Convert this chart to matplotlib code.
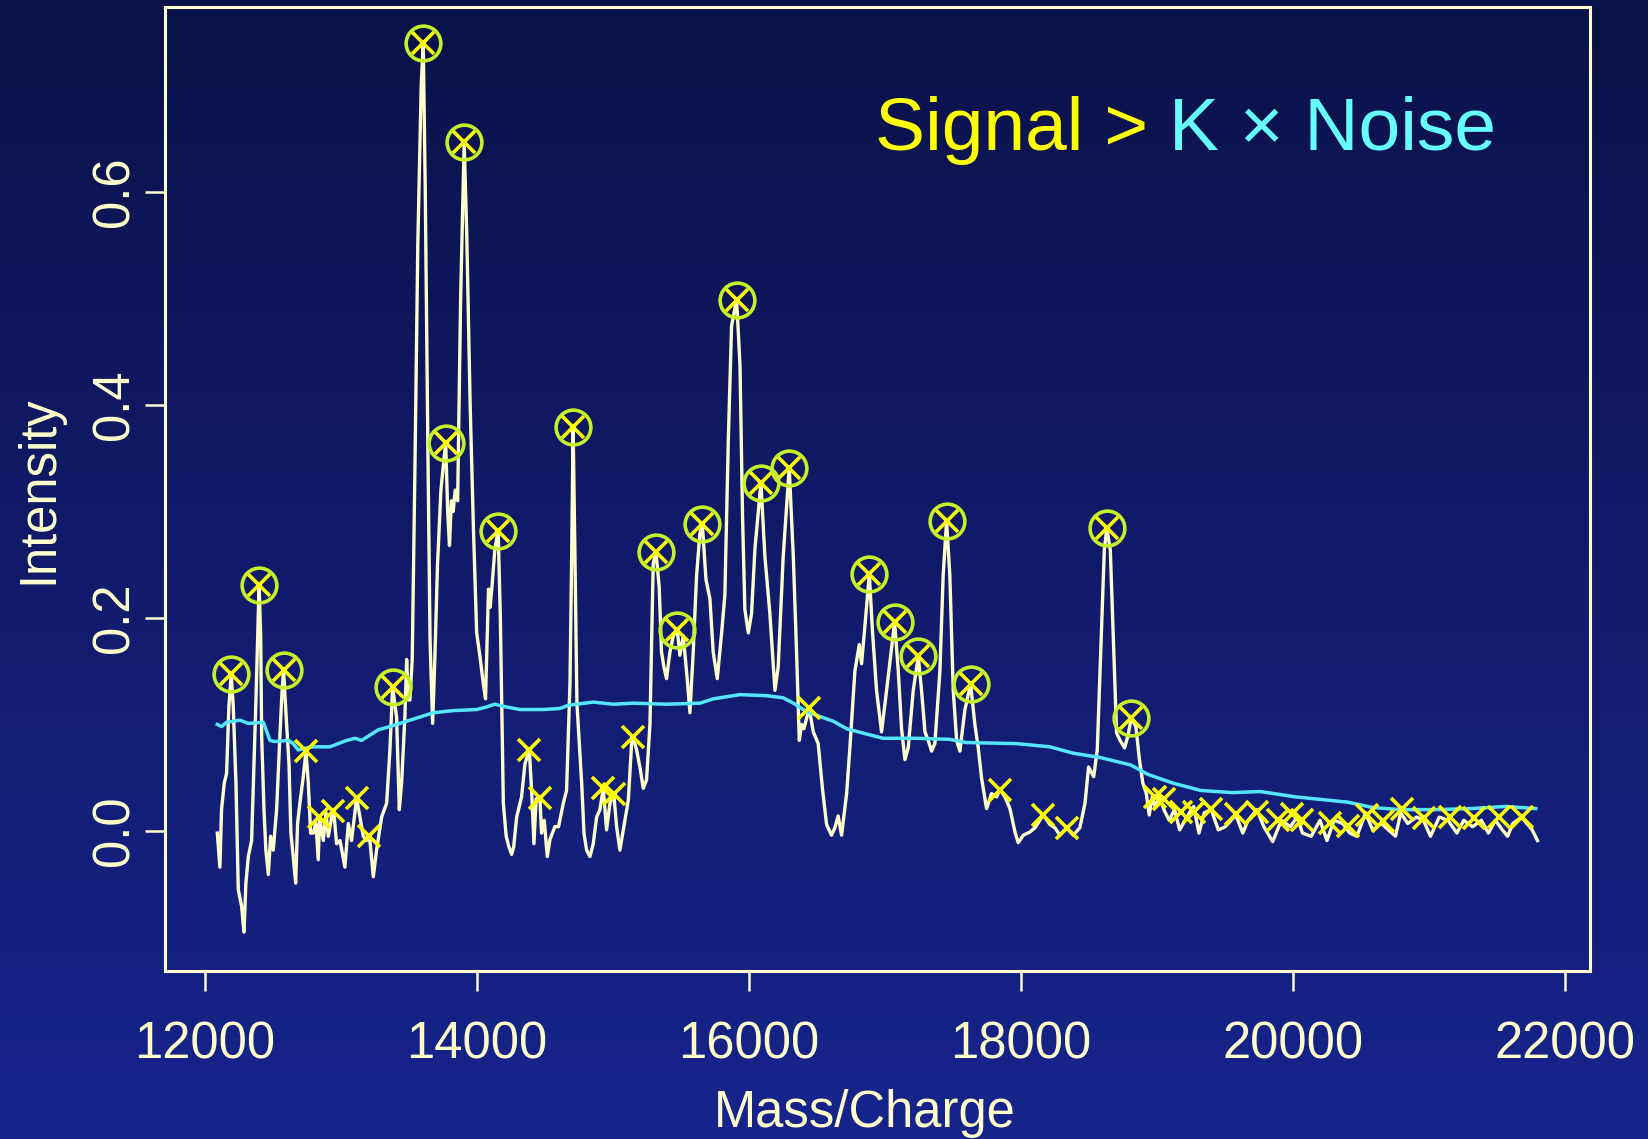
import numpy as np
import matplotlib.pyplot as plt
from matplotlib.colors import LinearSegmentedColormap

plt.rcParams['font.family'] = ['Liberation Sans', 'DejaVu Sans']

# spectrum trace (mass/charge, intensity)
mz = [12091, 12110, 12122, 12142, 12159, 12176, 12193, 12208, 12228, 12245,
      12270, 12287, 12301, 12319, 12343, 12360, 12375, 12398, 12410, 12417,
      12434, 12448, 12466, 12483, 12502, 12527, 12551, 12566, 12578, 12600,
      12618, 12632, 12649, 12667, 12681, 12698, 12723, 12743, 12760, 12777,
      12796, 12816, 12833, 12843, 12870, 12890, 12907, 12940, 12951, 12968,
      12993, 13029, 13054, 13078, 13115, 13140, 13164, 13189, 13210, 13238,
      13262, 13299, 13336, 13360, 13380, 13409, 13429, 13446, 13470, 13483,
      13495, 13507, 13524, 13545, 13565, 13590, 13605, 13620, 13640, 13655,
      13674, 13690, 13710, 13735, 13758, 13770, 13785, 13798, 13812, 13825,
      13840, 13858, 13880, 13906, 13925, 13950, 13975, 13998, 14022, 14045,
      14063, 14075, 14085, 14097, 14112, 14132, 14156, 14172, 14194, 14215,
      14235, 14255, 14270, 14292, 14328, 14353, 14385, 14402, 14419, 14435,
      14463, 14475, 14495, 14517, 14537, 14573, 14600, 14635, 14659, 14684,
      14697, 14707, 14720, 14735, 14770, 14787, 14806, 14831, 14855, 14880,
      14904, 14929, 14953, 14978, 15005, 15027, 15051, 15088, 15113, 15137,
      15149, 15174, 15198, 15223, 15247, 15272, 15296, 15316, 15340, 15357,
      15375, 15394, 15419, 15443, 15473, 15492, 15517, 15546, 15566, 15590,
      15615, 15639, 15657, 15684, 15713, 15737, 15767, 15799, 15823, 15848,
      15872, 15909, 15934, 15953, 15970, 15995, 16019, 16044, 16088, 16117,
      16154, 16191, 16215, 16252, 16296, 16326, 16350, 16370, 16387, 16404,
      16443, 16473, 16509, 16541, 16571, 16607, 16632, 16656, 16681, 16718,
      16742, 16779, 16811, 16828, 16853, 16885, 16909, 16938, 16975, 17012,
      17071, 17098, 17122, 17147, 17171, 17208, 17245, 17269, 17294, 17318,
      17343, 17367, 17404, 17428, 17453, 17477, 17502, 17527, 17551, 17588,
      17630, 17661, 17686, 17710, 17747, 17784, 17821, 17846, 17882, 17919,
      17956, 17980, 18017, 18066, 18103, 18164, 18213, 18250, 18286, 18336,
      18384, 18433, 18471, 18497, 18535, 18561, 18587, 18613, 18631, 18657,
      18682, 18703, 18729, 18762, 18786, 18811, 18845, 18871, 18896, 18922,
      18943, 18966, 18987, 19018, 19051, 19090, 19129, 19167, 19219, 19270,
      19309, 19348, 19399, 19451, 19503, 19580, 19631, 19670, 19735, 19786,
      19851, 19915, 19980, 20031, 20070, 20134, 20199, 20250, 20302, 20366,
      20418, 20470, 20534, 20586, 20650, 20702, 20754, 20792, 20844, 20908,
      20960, 21011, 21076, 21140, 21205, 21256, 21321, 21385, 21437, 21488,
      21540, 21578, 21617, 21681, 21720, 21759, 21798]
intensity = [-0.002, -0.034, 0.020, 0.045, 0.054, 0.117, 0.147, 0.117, 0.045, -0.055,
             -0.071, -0.095, -0.049, -0.024, -0.009, 0.060, 0.123, 0.231, 0.182, 0.089,
             0.020, -0.018, -0.041, -0.005, -0.018, 0.020, 0.089, 0.129, 0.151, 0.101,
             0.063, -0.002, -0.024, -0.049, 0.007, 0.026, 0.051, 0.075, 0.045, -0.002,
             -0.002, 0.007, -0.027, 0.013, -0.009, 0.017, -0.005, 0.019, 0.013, -0.012,
             -0.009, -0.034, 0.007, -0.009, 0.031, 0.013, -0.005, -0.009, -0.005, -0.043,
             -0.018, 0.013, 0.026, 0.076, 0.135, 0.107, 0.020, 0.045, 0.107, 0.161,
             0.123, 0.123, 0.161, 0.350, 0.550, 0.700, 0.740, 0.600, 0.350, 0.180,
             0.101, 0.160, 0.250, 0.320, 0.350, 0.364, 0.300, 0.268, 0.310, 0.300,
             0.320, 0.310, 0.500, 0.647, 0.560, 0.400, 0.280, 0.186, 0.164, 0.140,
             0.124, 0.180, 0.227, 0.210, 0.232, 0.265, 0.282, 0.200, 0.026, -0.005,
             -0.015, -0.022, -0.015, 0.013, 0.032, 0.063, 0.076, 0.038, -0.012, 0.030,
             0.031, -0.002, 0.010, -0.024, -0.008, 0.004, 0.004, 0.026, 0.038, 0.139,
             0.264, 0.379, 0.264, 0.120, 0.045, -0.002, -0.018, -0.024, -0.012, 0.013,
             0.020, 0.040, 0.001, 0.026, 0.036, 0.004, -0.018, 0.010, 0.029, 0.082,
             0.088, 0.076, 0.060, 0.040, 0.048, 0.100, 0.251, 0.262, 0.229, 0.168,
             0.154, 0.143, 0.168, 0.183, 0.189, 0.165, 0.183, 0.143, 0.111, 0.168,
             0.240, 0.279, 0.288, 0.236, 0.218, 0.168, 0.143, 0.186, 0.222, 0.366,
             0.474, 0.499, 0.438, 0.294, 0.208, 0.186, 0.204, 0.265, 0.327, 0.258,
             0.204, 0.132, 0.154, 0.258, 0.341, 0.258, 0.168, 0.085, 0.100, 0.096,
             0.115, 0.093, 0.082, 0.039, 0.006, -0.004, 0.003, 0.014, -0.004, 0.035,
             0.078, 0.150, 0.175, 0.157, 0.193, 0.241, 0.186, 0.132, 0.093, 0.132,
             0.196, 0.150, 0.096, 0.067, 0.078, 0.132, 0.164, 0.132, 0.093, 0.085,
             0.075, 0.082, 0.150, 0.240, 0.291, 0.240, 0.132, 0.085, 0.075, 0.114,
             0.138, 0.100, 0.078, 0.050, 0.021, 0.035, 0.032, 0.039, 0.032, 0.021,
             -0.001, -0.011, -0.004, -0.001, 0.003, 0.015, 0.006, 0.003, -0.004, 0.003,
             -0.004, 0.003, 0.026, 0.060, 0.051, 0.076, 0.170, 0.264, 0.284, 0.264,
             0.170, 0.092, 0.085, 0.078, 0.089, 0.106, 0.098, 0.067, 0.045, 0.035,
             0.015, 0.032, 0.023, 0.032, 0.020, 0.010, 0.020, 0.001, 0.013, 0.023,
             -0.002, 0.017, 0.020, 0.001, 0.004, 0.015, -0.002, 0.010, 0.020, 0.004,
             -0.010, 0.010, 0.004, 0.013, -0.002, -0.005, 0.010, -0.009, 0.010, 0.007,
             -0.002, -0.005, 0.017, 0.001, 0.007, 0.001, -0.005, 0.017, 0.007, 0.013,
             0.010, -0.005, 0.013, 0.010, -0.002, 0.010, 0.004, 0.010, -0.002, 0.010,
             0.001, -0.005, 0.007, 0.013, 0.007, 0.001, -0.009]

# estimated noise level
noise_mz = [12091, 12122, 12159, 12257, 12319, 12429, 12478, 12515, 12613, 12649,
            12686, 12747, 12796, 12919, 13042, 13103, 13152, 13213, 13275, 13360,
            13483, 13581, 13679, 13826, 13998, 14059, 14132, 14194, 14316, 14488,
            14610, 14671, 14855, 15002, 15149, 15394, 15639, 15737, 15933, 16130,
            16252, 16326, 16424, 16620, 16718, 16865, 16987, 17232, 17477, 17600,
            17968, 18213, 18384, 18580, 18806, 18935, 19116, 19322, 19554, 19760,
            20018, 20405, 20586, 20792, 21050, 21308, 21566, 21785]
noise_level = [0.100, 0.098, 0.102, 0.104, 0.101, 0.102, 0.085, 0.084, 0.085, 0.082,
               0.076, 0.078, 0.079, 0.079, 0.085, 0.087, 0.085, 0.090, 0.095, 0.098,
               0.103, 0.107, 0.111, 0.113, 0.114, 0.116, 0.119, 0.117, 0.114, 0.114,
               0.115, 0.118, 0.121, 0.119, 0.120, 0.119, 0.120, 0.124, 0.128, 0.127,
               0.125, 0.120, 0.112, 0.103, 0.096, 0.091, 0.087, 0.087, 0.086, 0.083,
               0.082, 0.079, 0.073, 0.069, 0.062, 0.053, 0.045, 0.038, 0.036, 0.037,
               0.032, 0.027, 0.022, 0.020, 0.020, 0.021, 0.023, 0.021]

# peaks above K x noise (circled)
sig_mz = [12193, 12398, 12578, 13380, 13605, 13770, 13906, 14156, 14707, 15316,
          15473, 15657, 15909, 16088, 16296, 16885, 17071, 17245, 17453, 17630,
          18631, 18811]
sig_int = [0.147, 0.231, 0.151, 0.135, 0.740, 0.364, 0.647, 0.282, 0.379, 0.262,
           0.189, 0.288, 0.499, 0.327, 0.341, 0.241, 0.196, 0.164, 0.291, 0.138,
           0.284, 0.106]

# other local maxima
other_mz = [12743, 12841, 12943, 13115, 13208, 14385, 14463, 14929, 15007, 15149,
            16443, 17846, 18164, 18336, 18987, 19051, 19180, 19270, 19399, 19580,
            19735, 19889, 19993, 20070, 20276, 20405, 20547, 20663, 20805, 20960,
            21153, 21334, 21514, 21681]
other_int = [0.075, 0.013, 0.019, 0.031, -0.005, 0.076, 0.031, 0.040, 0.035, 0.088,
             0.115, 0.038, 0.015, 0.003, 0.032, 0.030, 0.018, 0.018, 0.021, 0.016,
             0.018, 0.010, 0.016, 0.010, 0.007, 0.005, 0.015, 0.009, 0.021, 0.012,
             0.013, 0.012, 0.013, 0.013]

fg = '#FFFFCC'

fig = plt.figure(figsize=(16.48, 11.39), dpi=100)

# dark blue gradient background
bg = fig.add_axes([0, 0, 1, 1], zorder=-10)
grad = np.linspace(0, 1, 256).reshape(-1, 1)
cmap = LinearSegmentedColormap.from_list('bg', ['#0B1249', '#17248C'])
bg.imshow(grad, aspect='auto', cmap=cmap, extent=[0, 1, 0, 1], origin='upper')
bg.axis('off')

ax = fig.add_axes([0.1001, 0.1475, 0.8647, 0.8464])
ax.set_facecolor('none')

ax.plot(mz, intensity, color=fg, lw=2.4, zorder=2, solid_joinstyle='round')
ax.plot(noise_mz, noise_level, color='#55E6FF', lw=2.5, zorder=3)
ax.plot(other_mz, other_int, 'x', color='#FFFF00', ms=16, mew=2.6, zorder=4)
ax.plot(sig_mz, sig_int, 'x', color='#FFFF00', ms=16, mew=2.6, zorder=4)
ax.plot(sig_mz, sig_int, 'o', mfc='none', mec='#C5F02A', ms=25, mew=2.6, zorder=5)

ax.set_xlim(11706, 22184)
ax.set_ylim(-0.1315, 0.7737)

for s in ax.spines.values():
    s.set_color(fg)
    s.set_linewidth(2.2)

ax.set_xticks(range(12000, 22001, 2000))
ax.set_yticks([0.0, 0.2, 0.4, 0.6])
ax.set_yticklabels(['0.0', '0.2', '0.4', '0.6'])
ax.tick_params(colors=fg, length=14.4, width=1.8, labelsize=36.5, direction='out')
ax.tick_params(axis='x', pad=21)
ax.tick_params(axis='y', pad=4)
for lab in ax.get_yticklabels():
    lab.set_rotation(90)
    lab.set_va('center')

fig.text(865 / 1648, 1 - 1114 / 1139, 'Mass/Charge', color=fg, fontsize=36.5,
         ha='center', va='center')
fig.text(39 / 1648, 1 - 490 / 1139, 'Intensity', color=fg, fontsize=36.5,
         rotation=90, ha='center', va='center')

t1 = fig.text(875 / 1648, 1 - 150 / 1139, 'Signal >', color='#FFFF00',
              fontsize=54, ha='left', va='baseline')
ax.annotate('K \u00d7 Noise', xy=(1, 0), xycoords=t1, xytext=(21, 0),
            textcoords='offset pixels', color='#66FFFF', fontsize=54,
            ha='left', va='bottom', annotation_clip=False)

fig.savefig('out.png', dpi=100)
